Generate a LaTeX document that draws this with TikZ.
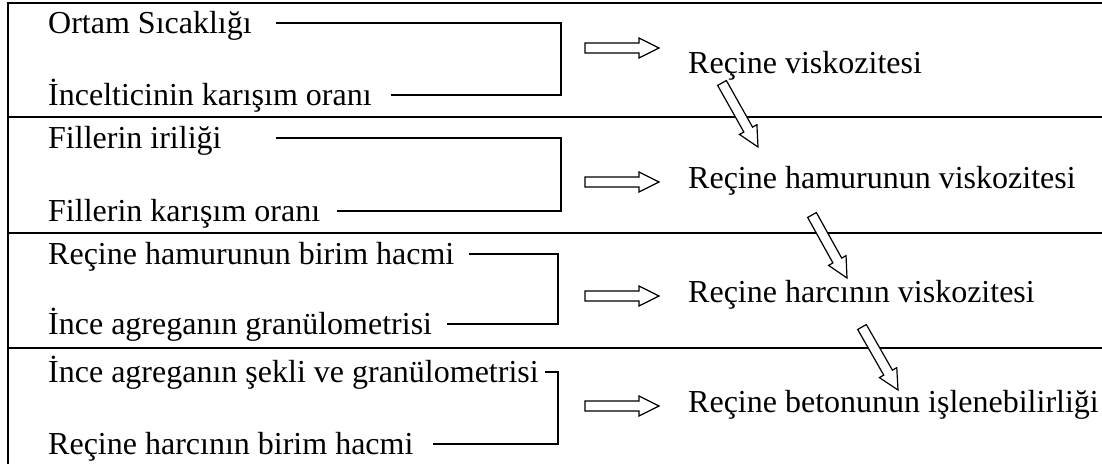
\documentclass[tikz,border=0pt]{standalone}
\usepackage{fontspec}
\setmainfont{Liberation Serif}
\usetikzlibrary{calc}
\tikzset{
  lbl/.style={inner sep=0pt, anchor=base west, font=\fontsize{32}{38}\selectfont},
  frame/.style={line width=2pt, line cap=rect},
  conn/.style={line width=1.2pt},
  harr/.style={line width=1.2pt, fill=white, line join=miter}
}
\newcommand\hollowarr[3]{%
  \coordinate (#3h) at ($(#2)!20pt!(#1)$);
  \draw[harr] ($(#1)!5pt!90:(#2)$) -- ($(#3h)!5pt!-90:(#1)$) -- ($(#3h)!10pt!-90:(#1)$) -- (#2)
    -- ($(#3h)!10pt!90:(#1)$) -- ($(#3h)!5pt!90:(#1)$) -- ($(#1)!5pt!-90:(#2)$) -- cycle;}
\begin{document}
\begin{tikzpicture}[x=1pt,y=1pt]
\useasboundingbox (0,0) rectangle (1102,-463);
% frame
\draw[frame] (1102,-3) -- (8,-3) -- (8,-463);
\draw[frame] (8,-117) -- (1102,-117);
\draw[frame] (8,-233) -- (1102,-233);
\draw[frame] (8,-348) -- (1102,-348);
% left texts
\node[lbl] (t1a) at (48,-33) {Ortam Sıcaklığı};
\node[lbl] (t1b) at (48,-105) {İncelticinin karışım oranı};
\node[lbl] (t2a) at (48,-148) {Fillerin iriliği};
\node[lbl] (t2b) at (48,-221) {Fillerin karışım oranı};
\node[lbl] (t3a) at (48,-264) {Reçine hamurunun birim hacmi};
\node[lbl] (t3b) at (48,-334) {İnce agreganın granülometrisi};
\node[lbl] (t4a) at (48,-382) {İnce agreganın şekli ve granülometrisi};
\node[lbl] (t4b) at (48,-454) {Reçine harcının birim hacmi};
% right texts
\node[lbl] (r1) at (688,-73) {Reçine viskozitesi};
\node[lbl] (r2) at (688,-188) {Reçine hamurunun viskozitesi};
\node[lbl] (r3) at (688,-302) {Reçine harcının viskozitesi};
\node[lbl] (r4) at (688,-412) {Reçine betonunun işlenebilirliği};
% bracket x positions
\coordinate (br1) at (561,0);
\coordinate (br2) at (561,0);
\coordinate (br3) at (558,0);
\coordinate (br4) at (558,0);
% bracket start points
\coordinate (s1a) at ([shift={(24pt,10pt)}]t1a.base east);
\coordinate (s1b) at ([shift={(19pt,10pt)}]t1b.base east);
\coordinate (s2a) at ([shift={(54pt,10pt)}]t2a.base east);
\coordinate (s2b) at ([shift={(17pt,10pt)}]t2b.base east);
\coordinate (s3a) at ([shift={(14pt,10pt)}]t3a.base east);
\coordinate (s3b) at ([shift={(15pt,10pt)}]t3b.base east);
\coordinate (s4a) at ([shift={(6pt,10pt)}]t4a.base east);
\coordinate (s4b) at ([shift={(19pt,10pt)}]t4b.base east);
\draw[conn] (s1a) -- (s1a -| br1) |- (s1b);
\draw[conn] (s2a) -- (s2a -| br2) |- (s2b);
\draw[conn] (s3a) -- (s3a -| br3) |- (s3b);
\draw[conn] (s4a) -- (s4a -| br4) |- (s4b);
% horizontal hollow arrows
\coordinate (h1s) at (585,-48);  \coordinate (h1e) at (659,-48);
\coordinate (h2s) at (585,-182); \coordinate (h2e) at (659,-182);
\coordinate (h3s) at (585,-296); \coordinate (h3e) at (659,-296);
\coordinate (h4s) at (585,-406); \coordinate (h4e) at (659,-406);
\hollowarr{h1s}{h1e}{ha1}
\hollowarr{h2s}{h2e}{ha2}
\hollowarr{h3s}{h3e}{ha3}
\hollowarr{h4s}{h4e}{ha4}
% diagonal hollow arrows
\coordinate (d1s) at (722,-83);  \coordinate (d1e) at (758,-147);
\coordinate (d2s) at (812,-215); \coordinate (d2e) at (847,-278);
\coordinate (d3s) at (862,-327); \coordinate (d3e) at (898,-390);
\hollowarr{d1s}{d1e}{da1}
\hollowarr{d2s}{d2e}{da2}
\hollowarr{d3s}{d3e}{da3}
\end{tikzpicture}
\end{document}
